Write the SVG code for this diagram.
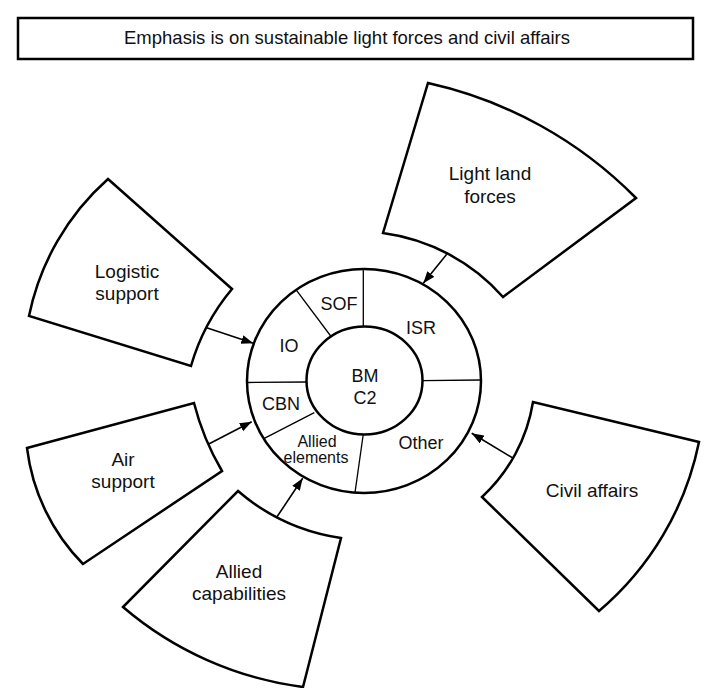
<svg xmlns="http://www.w3.org/2000/svg" width="711" height="688" viewBox="0 0 711 688">
<style>
.box{fill:#fff;stroke:#000;stroke-width:2.5}
.fan{fill:#fff;stroke:#000;stroke-width:2.5;stroke-linejoin:miter}
.ring{fill:#fff;stroke:#000;stroke-width:2.5}
.div{stroke:#000;stroke-width:1.3;fill:none}
.arr{stroke:#000;stroke-width:1.6;fill:none}
text{font-family:"Liberation Sans",Arial,Helvetica,sans-serif;fill:#111;text-anchor:middle}
.t19{font-size:19px}
.t18{font-size:18px}
.t16{font-size:16px}
.tt{font-size:18.5px}
</style>
<defs>
<marker id="ah" markerWidth="13" markerHeight="10" refX="12" refY="4.5" orient="auto" markerUnits="userSpaceOnUse">
<path d="M0,0 L12,4.5 L0,9 z" fill="#000"/>
</marker>
</defs>

<g id="title">
<rect class="box" x="18" y="18" width="675" height="41"/>
<text class="tt" x="347" y="44">Emphasis is on sustainable light forces and civil affairs</text>
</g>

<g id="light-land-forces">
<path class="fan" d="M383,233 L428,83 A420,420 0 0 1 636,198 L503,297 A195,195 0 0 0 383,233 Z"/>
<text class="t19" x="490" y="180">Light land</text>
<text class="t19" x="490" y="203">forces</text>
</g>

<g id="logistic-support">
<path class="fan" d="M29,316 A250,250 0 0 1 108,179 L232,289 A210,210 0 0 0 191,366 Z"/>
<text class="t19" x="127" y="278">Logistic</text>
<text class="t19" x="127" y="300">support</text>
</g>

<g id="air-support">
<path class="fan" d="M27,448 L194,403 A260,260 0 0 0 222,471 L83,564 A200,200 0 0 1 27,448 Z"/>
<text class="t19" x="123" y="466">Air</text>
<text class="t19" x="123" y="488">support</text>
</g>

<g id="allied-capabilities">
<path class="fan" d="M238,491 A203,203 0 0 0 341,538 L303,687 A345,345 0 0 1 123,607 Z"/>
<text class="t19" x="239" y="578">Allied</text>
<text class="t19" x="239" y="600">capabilities</text>
</g>

<g id="civil-affairs">
<path class="fan" d="M482,497 A165,165 0 0 0 533,402 L699,442 A300,300 0 0 1 599,611 Z"/>
<text class="t19" x="592" y="497">Civil affairs</text>
</g>

<g id="bmc2-ring">
<ellipse class="ring" cx="364" cy="381" rx="117" ry="112"/>
<line class="div" x1="363.3" y1="269" x2="363.3" y2="327"/>
<line class="div" x1="296.7" y1="290.7" x2="330.7" y2="336"/>
<line class="div" x1="247" y1="382.5" x2="306.7" y2="382"/>
<line class="div" x1="264.3" y1="438.3" x2="314.3" y2="412.7"/>
<line class="div" x1="363.3" y1="434" x2="355" y2="492.7"/>
<line class="div" x1="422.7" y1="380.7" x2="480.5" y2="380"/>
<text class="t18" x="339" y="310">SOF</text>
<text class="t18" x="421" y="334">ISR</text>
<text class="t18" x="289" y="352">IO</text>
<text class="t18" x="281" y="410">CBN</text>
<text class="t16" x="317" y="447">Allied</text>
<text class="t16" x="316" y="463">elements</text>
<text class="t18" x="421" y="449">Other</text>
</g>

<g id="bmc2">
<ellipse class="ring" cx="364.5" cy="380.5" rx="58" ry="54"/>
<text class="t18" x="365" y="382">BM</text>
<text class="t18" x="365" y="404">C2</text>
</g>

<g id="connectors">
<line class="arr" x1="446.7" y1="254.3" x2="423.3" y2="283.3" marker-end="url(#ah)"/>
<line class="arr" x1="206.7" y1="327.7" x2="253.3" y2="343.3" marker-end="url(#ah)"/>
<line class="arr" x1="208.3" y1="444.3" x2="251.7" y2="421.7" marker-end="url(#ah)"/>
<line class="arr" x1="276.7" y1="517.3" x2="302.7" y2="478.3" marker-end="url(#ah)"/>
<line class="arr" x1="513.3" y1="458.3" x2="471.7" y2="433.3" marker-end="url(#ah)"/>
</g>
</svg>
